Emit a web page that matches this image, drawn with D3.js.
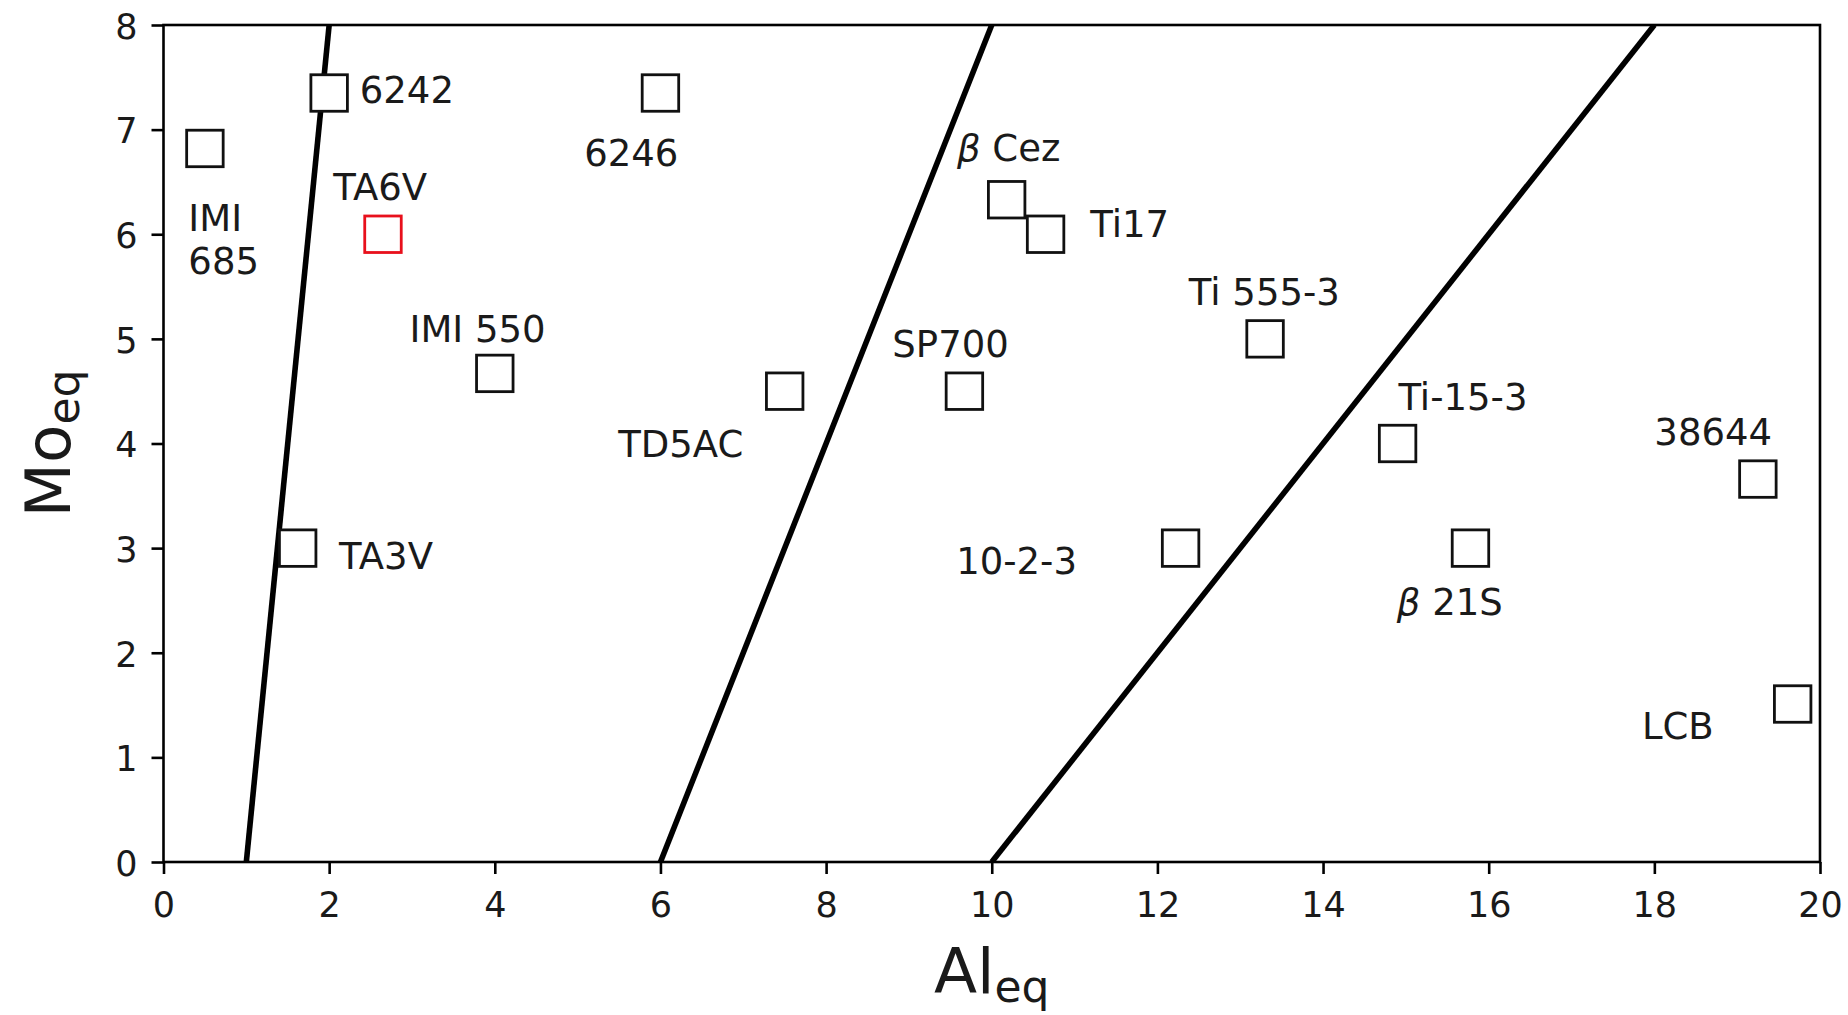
<!DOCTYPE html>
<html>
<head>
<meta charset="utf-8">
<script src="https://cdn.jsdelivr.net/npm/d3@7"></script>
<style>
  html, body { margin: 0; padding: 0; background: #ffffff; }
  svg { display: block; }
  text { font-family: "DejaVu Sans", "Liberation Sans", sans-serif; fill: #1a1a1a; }
</style>
</head>
<body>
<svg id="chart" width="1848" height="1015"></svg>
<script>
// Alloys in the (Al_eq, Mo_eq) plane
const alloyNames = ["IMI\n685", "6242", "TA6V", "IMI 550", "TA3V", "6246", "TD5AC", "SP700",
                    "β Cez", "Ti17", "Ti 555-3", "10-2-3", "Ti-15-3", "β 21S", "38644", "LCB"];
const alEq = [0.5, 2.0, 2.65, 4.0, 1.62, 6.0, 7.5, 9.67, 10.18, 10.65, 13.3, 12.28, 14.9, 15.78, 19.25, 19.67];
const moEq = [6.82, 7.35, 6.0, 4.67, 3.0, 7.35, 4.5, 4.5, 6.33, 6.0, 5.0, 3.0, 4.0, 3.0, 3.66, 1.51];
const highlighted = ["TA6V"];

// Text anchors of the alloy names, in data units (left edge, first baseline)
const nameAl = [0.30, 2.37, 2.05, 2.97, 2.12, 5.08, 5.49, 8.80, 9.58, 11.19, 12.38, 9.57, 14.91, 14.89, 18.0, 17.85];
const nameMo = [6.03, 7.25, 6.33, 4.97, 2.80, 6.65, 3.87, 4.83, 6.70, 5.97, 5.32, 2.75, 4.32, 2.36, 3.99, 1.18];

// Domain boundaries: straight lines from Mo_eq = 0 to Mo_eq = 8
const boundaryAlAtBottom = [1, 6, 10];
const boundaryAlAtTop = [2, 10, 18];
const boundaryMo = [0, 8];

// Axes
const xDomain = [0, 20];
const yDomain = [0, 8];
const xTicks = [0, 2, 4, 6, 8, 10, 12, 14, 16, 18, 20];
const yTicks = [0, 1, 2, 3, 4, 5, 6, 7, 8];

const svg = d3.select("#chart");
const plot = { left: 163.5, right: 1820, top: 25, bottom: 862 };

const x = d3.scaleLinear().domain(xDomain).range([plot.left, plot.right]);
const y = d3.scaleLinear().domain(yDomain).range([plot.bottom, plot.top]);

svg.append("rect").attr("width", 1848).attr("height", 1015).attr("fill", "#ffffff");

svg.append("defs").append("clipPath").attr("id", "plot-clip")
  .append("rect")
  .attr("x", plot.left).attr("y", plot.top)
  .attr("width", plot.right - plot.left).attr("height", plot.bottom - plot.top);

// Boundary lines
const boundaries = boundaryAlAtBottom.map((a, i) => [[a, boundaryMo[0]], [boundaryAlAtTop[i], boundaryMo[1]]]);
const line = d3.line().x(d => x(d[0])).y(d => y(d[1]));
svg.append("g").attr("clip-path", "url(#plot-clip)")
  .selectAll("path").data(boundaries).join("path")
  .attr("d", line)
  .attr("fill", "none")
  .attr("stroke", "#000")
  .attr("stroke-width", 5.6)
  .attr("stroke-linecap", "butt");

// Alloy markers
const alloys = alloyNames.map((name, i) => ({ name, al: alEq[i], mo: moEq[i], tx: nameAl[i], ty: nameMo[i] }));
const side = 36.5;
svg.append("g").selectAll("rect").data(alloys).join("rect")
  .attr("x", d => x(d.al) - side / 2)
  .attr("y", d => y(d.mo) - side / 2)
  .attr("width", side).attr("height", side)
  .attr("fill", "#ffffff")
  .attr("stroke", d => highlighted.includes(d.name) ? "#e8101c" : "#111")
  .attr("stroke-width", 2.8);

// Alloy names
const labelSize = 37;
const labels = svg.append("g").selectAll("text").data(alloys).join("text")
  .attr("x", d => x(d.tx))
  .attr("y", d => y(d.ty))
  .style("font-size", labelSize + "px");
labels.each(function (d) {
  const t = d3.select(this);
  d.name.split("\n").forEach((part, k) => {
    const ts = t.append("tspan").attr("x", x(d.tx)).attr("dy", k === 0 ? 0 : 42.6);
    if (part.startsWith("β")) {
      ts.append("tspan").style("font-style", "italic").text("β");
      ts.append("tspan").text(part.slice(1));
    } else {
      ts.text(part);
    }
  });
});

// Axes
const tickSize = 35;
const xAxis = svg.append("g")
  .attr("transform", `translate(0,${plot.bottom})`)
  .call(d3.axisBottom(x).tickValues(xTicks).tickFormat(d3.format("d")).tickSize(12).tickPadding(18));
const yAxis = svg.append("g")
  .attr("transform", `translate(${plot.left},0)`)
  .call(d3.axisLeft(y).tickValues(yTicks).tickFormat(d3.format("d")).tickSize(12).tickPadding(14));
[xAxis, yAxis].forEach(g => {
  g.select(".domain").remove();
  g.selectAll(".tick line").attr("stroke", "#000").attr("stroke-width", 2.6);
  g.selectAll(".tick text").attr("fill", "#1a1a1a")
    .style("font-size", tickSize + "px")
    .style("font-family", "'DejaVu Sans', sans-serif");
});
yAxis.selectAll(".tick text").attr("dy", "0.38em");

// Frame
svg.append("rect")
  .attr("x", plot.left).attr("y", plot.top)
  .attr("width", plot.right - plot.left).attr("height", plot.bottom - plot.top)
  .attr("fill", "none").attr("stroke", "#000").attr("stroke-width", 2.6);

// Axis titles
const xTitle = svg.append("text")
  .attr("x", (plot.left + plot.right) / 2)
  .attr("y", 993)
  .attr("text-anchor", "middle")
  .style("font-size", "63px");
xTitle.append("tspan").text("Al");
xTitle.append("tspan").attr("dy", 9).style("font-size", "44px").text("eq");

const yTitle = svg.append("text")
  .attr("transform", `translate(70,${(plot.top + plot.bottom) / 2}) rotate(-90)`)
  .attr("text-anchor", "middle")
  .style("font-size", "63px");
yTitle.append("tspan").text("Mo");
yTitle.append("tspan").attr("dy", 9).style("font-size", "44px").text("eq");
</script>
</body>
</html>
